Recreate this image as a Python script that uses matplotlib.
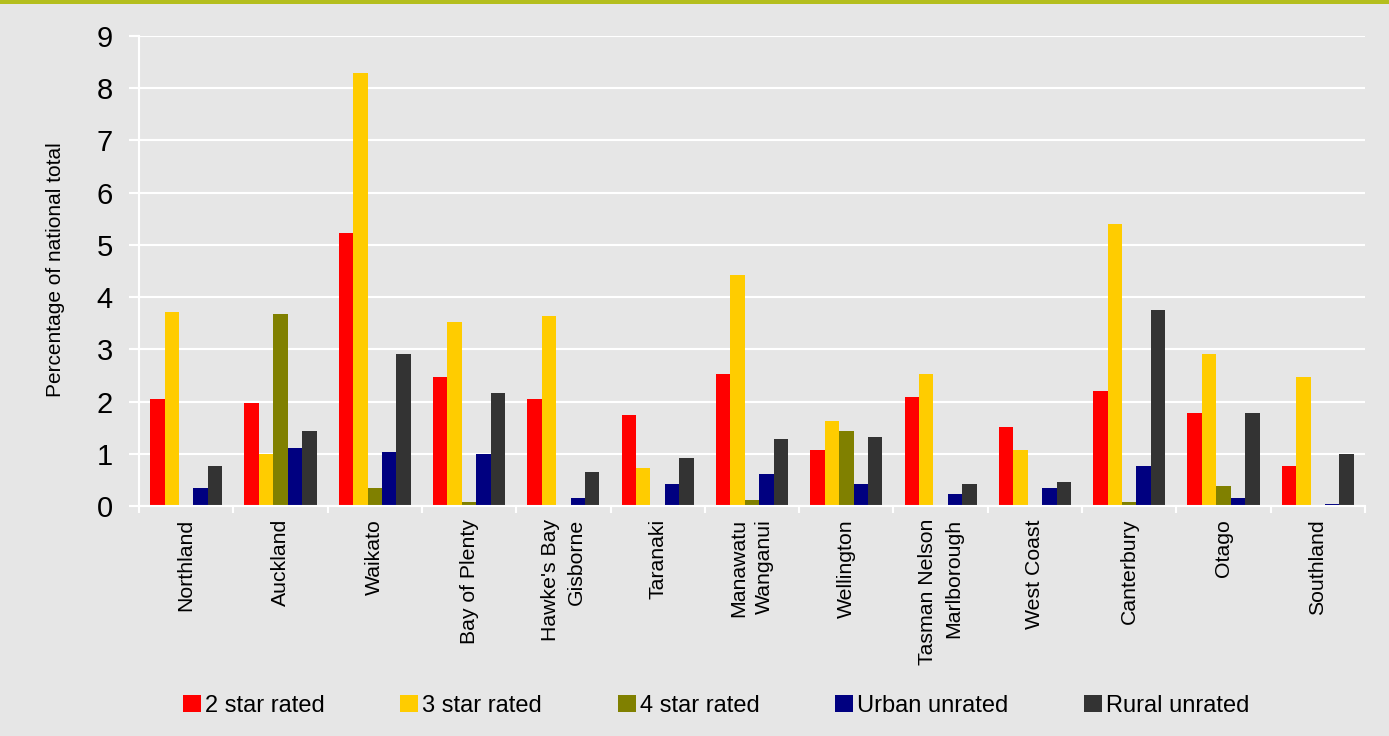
import numpy
import matplotlib
matplotlib.use("Agg")
from matplotlib import pyplot
from matplotlib import patheffects
from matplotlib.patches import Rectangle

# -----------------------------------------------------------------------------
# data
regions = ["Northland", "Auckland", "Waikato", "Bay of Plenty",
           "Hawke's Bay\nGisborne", "Taranaki", "Manawatu\nWanganui",
           "Wellington", "Tasman Nelson\nMarlborough", "West Coast",
           "Canterbury", "Otago", "Southland"]

series_names = ["2 star rated", "3 star rated", "4 star rated",
                "Urban unrated", "Rural unrated"]

two_star = [2.04, 1.97, 5.22, 2.47, 2.04, 1.74, 2.53, 1.07, 2.09, 1.51, 2.20, 1.78, 0.76]
three_star = [3.72, 1.00, 8.30, 3.52, 3.63, 0.73, 4.42, 1.63, 2.53, 1.07, 5.40, 2.92, 2.47]
four_star = [0.00, 3.68, 0.34, 0.07, 0.00, 0.00, 0.11, 1.44, 0.00, 0.00, 0.07, 0.38, 0.00]
urban_unrated = [0.34, 1.11, 1.03, 1.00, 0.15, 0.42, 0.61, 0.42, 0.23, 0.34, 0.76, 0.15, 0.03]
rural_unrated = [0.76, 1.43, 2.92, 2.16, 0.65, 0.92, 1.28, 1.32, 0.42, 0.46, 3.75, 1.78, 1.00]

colors = ["#ff0000", "#ffcc00", "#808000", "#000080", "#333333"]

y_ticks = [0, 1, 2, 3, 4, 5, 6, 7, 8, 9]

# -----------------------------------------------------------------------------
pyplot.rcParams['font.family'] = ['Liberation Sans', 'DejaVu Sans']

bg = "#e6e6e6"
fig = pyplot.figure(figsize=(13.89, 7.36), dpi=100, facecolor=bg)
ax = fig.add_axes([0.1001, 0.3125, 0.8826, 0.6385])
ax.set_facecolor(bg)

# olive band on top of the figure
fig.patches.append(Rectangle((0, 0.995), 1, 0.005, transform=fig.transFigure,
                             facecolor="#b4be1e", edgecolor="none", zorder=5))

data = [two_star, three_star, four_star, urban_unrated, rural_unrated]
x = numpy.arange(len(regions))
width = 0.153
shadow = [patheffects.SimplePatchShadow(offset=(0, -2), alpha=0.25),
          patheffects.Normal()]

for i, (vals, name, col) in enumerate(zip(data, series_names, colors)):
    ax.bar(x + (i - 2) * width, vals, width, color=col, label=name,
           zorder=3, path_effects=shadow)

# axes limits and ticks
ax.set_xlim(-0.5, len(regions) - 0.5)
ax.set_ylim(0, 9)
ax.set_yticks(y_ticks)
ax.set_yticklabels([str(t) for t in y_ticks], fontsize=21)
ax.set_xticks(list(x - 0.5) + [len(regions) - 0.5])
ax.set_xticklabels([])

for i, lab in enumerate(regions):
    ax.text(i, -0.25, lab, rotation=90, ha='center', va='top',
            multialignment='right', fontsize=15.3, linespacing=1.45,
            transform=ax.transData, clip_on=False)

ax.grid(axis='y', color='white', linewidth=1.5, zorder=0)
ax.tick_params(axis='y', length=7, width=1.5, color='white', pad=12)
ax.tick_params(axis='x', length=5, width=1.5, color='white')

for side in ['top', 'right']:
    ax.spines[side].set_visible(False)
ax.spines['left'].set_color('white')
ax.spines['left'].set_linewidth(1.5)
ax.spines['bottom'].set_color('white')
ax.spines['bottom'].set_linewidth(1.5)
ax.spines['bottom'].set_zorder(4)

fig.text(56 / 1389, 1 - 270 / 736, 'Percentage of national total',
         rotation=90, ha='center', va='center', fontsize=15)

# legend along the bottom
leg = fig.legend(loc='center', bbox_to_anchor=(0.5155, 0.041), ncol=5,
                 frameon=False, fontsize=17, handlelength=0.76,
                 handleheight=0.76, handletextpad=0.17, columnspacing=3.2,
                 borderpad=0)
for h in leg.legend_handles:
    h.set_path_effects([])

fig.savefig('out.png', dpi=100, facecolor=bg)
